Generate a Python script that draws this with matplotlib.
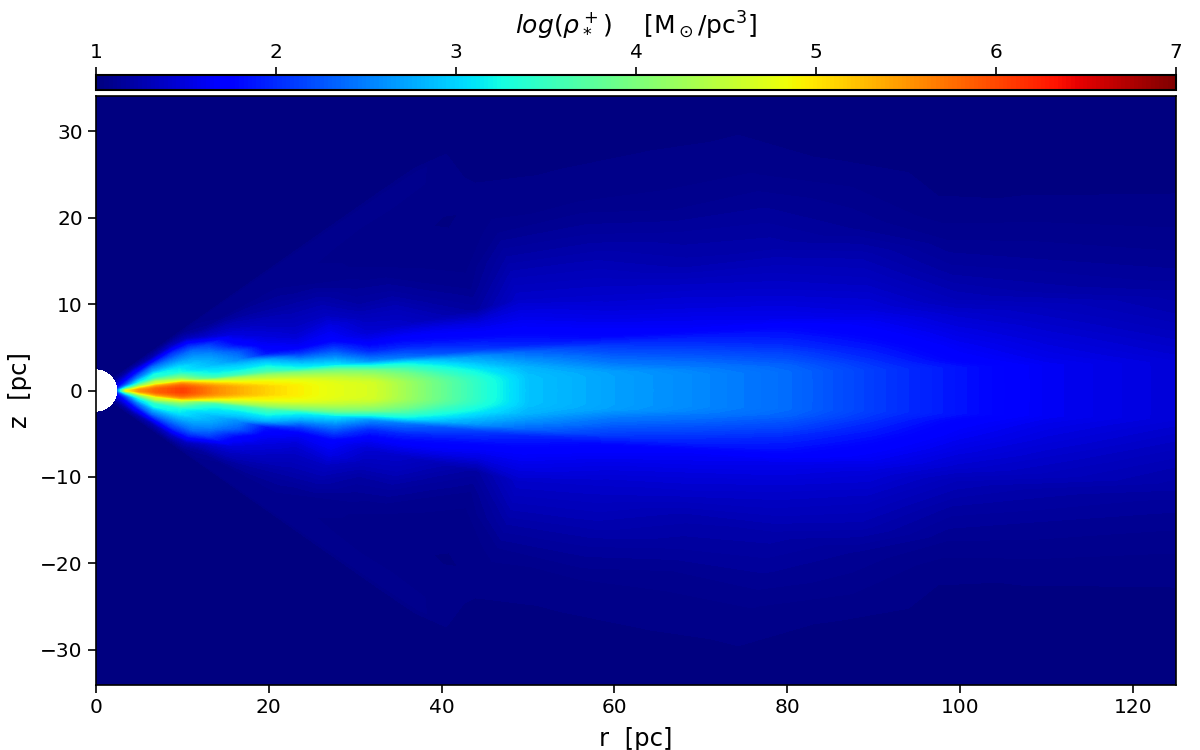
import numpy as np
import matplotlib
matplotlib.use("Agg")
import matplotlib.pyplot as plt
from matplotlib.cm import ScalarMappable
from matplotlib.colors import Normalize

# Radial nodes [pc] and elevation above the midplane [deg] of the polar grid
radii = [2.55, 3.5, 5, 7, 10, 12, 14, 17, 20, 24, 28, 32, 36, 40, 45, 50,
         60, 70, 80, 90, 100, 110, 125, 170]
elevations = [0, 0.5, 1, 1.5, 2, 3, 4, 5, 6, 8, 10, 12, 15, 18, 22, 26, 30, 34, 35.5, 90]

# log10 stellar density: one row per radius, one column per elevation
log_rho = [
    [2.50, 2.50, 2.40, 2.40, 2.30, 2.20, 2.10, 2.00, 1.90, 1.80, 1.70, 1.60, 1.50, 1.40, 1.30, 1.20, 1.10, 1.09, 1, 1],
    [4.80, 4.70, 4.50, 4.30, 4.10, 3.80, 3.50, 3.20, 3.00, 2.60, 2.30, 2.10, 1.90, 1.70, 1.50, 1.30, 1.15, 1.09, 1, 1],
    [5.50, 5.50, 5.45, 5.35, 5.25, 5.00, 4.70, 4.40, 4.10, 3.60, 3.20, 3.00, 2.60, 2.30, 1.90, 1.60, 1.25, 1.09, 1, 1],
    [5.85, 5.85, 5.85, 5.80, 5.75, 5.60, 5.40, 5.10, 4.70, 4.50, 3.90, 3.40, 3.25, 2.80, 2.40, 1.80, 1.25, 1.09, 1, 1],
    [6.05, 6.05, 6.05, 6.00, 5.95, 5.85, 5.65, 5.35, 4.80, 4.10, 3.70, 3.25, 3.10, 2.80, 2.40, 2.00, 1.40, 1.09, 1, 1],
    [5.80, 5.80, 5.80, 5.75, 5.70, 5.50, 5.20, 4.80, 4.00, 3.50, 3.20, 3.00, 2.90, 2.70, 2.40, 1.90, 1.30, 1.09, 1, 1],
    [5.55, 5.55, 5.55, 5.50, 5.45, 5.20, 4.85, 4.30, 3.60, 3.20, 3.05, 2.85, 2.70, 2.50, 2.10, 1.40, 1.15, 1.09, 1, 1],
    [5.30, 5.30, 5.30, 5.25, 5.15, 4.90, 4.60, 4.25, 3.60, 3.15, 2.90, 2.55, 2.30, 1.80, 1.50, 1.30, 1.09, 1.09, 1, 1],
    [5.10, 5.10, 5.10, 5.05, 4.95, 4.85, 4.50, 4.20, 3.70, 3.20, 2.80, 1.90, 1.65, 1.50, 1.35, 1.20, 1.09, 1.09, 1, 1],
    [4.90, 4.90, 4.90, 4.88, 4.85, 4.70, 4.35, 4.00, 3.25, 2.75, 2.10, 1.65, 1.45, 1.35, 1.25, 1.15, 1.09, 1.09, 1, 1],
    [4.75, 4.75, 4.75, 4.73, 4.70, 4.50, 4.20, 3.80, 3.10, 2.55, 2.10, 1.70, 1.55, 1.35, 1.22, 1.10, 1.07, 1.09, 1, 1],
    [4.65, 4.65, 4.65, 4.63, 4.55, 4.30, 4.00, 3.30, 2.60, 2.00, 1.65, 1.45, 1.33, 1.20, 1.12, 1.07, 1.06, 1.09, 1, 1],
    [4.25, 4.25, 4.25, 4.23, 4.15, 3.95, 3.60, 3.15, 2.45, 1.95, 1.65, 1.40, 1.30, 1.18, 1.08, 1.04, 1.05, 1.09, 1, 1],
    [3.85, 3.85, 3.85, 3.83, 3.75, 3.50, 3.20, 2.85, 2.25, 1.85, 1.60, 1.30, 1.18, 1.10, 1.05, 1.04, 1.05, 1.09, 1, 1],
    [3.35, 3.35, 3.35, 3.33, 3.28, 3.10, 2.85, 2.60, 2.10, 1.75, 1.50, 1.18, 1.10, 1.06, 1.04, 1.03, 1.05, 1.08, 1, 1],
    [2.90, 2.90, 2.90, 2.90, 2.88, 2.80, 2.60, 2.35, 1.95, 1.70, 1.55, 1.40, 1.30, 1.20, 1.08, 1.04, 1.03, 1.02, 1, 1],
    [2.70, 2.70, 2.70, 2.70, 2.68, 2.45, 2.25, 2.05, 1.75, 1.55, 1.42, 1.35, 1.25, 1.15, 1.05, 1.03, 1.02, 1.01, 1, 1],
    [2.55, 2.55, 2.55, 2.55, 2.50, 2.30, 2.10, 1.90, 1.65, 1.48, 1.37, 1.25, 1.17, 1.08, 1.04, 1.02, 1, 1, 1, 1],
    [2.38, 2.38, 2.38, 2.38, 2.33, 2.15, 1.95, 1.80, 1.58, 1.42, 1.32, 1.22, 1.14, 1.07, 1.03, 1, 1, 1, 1, 1],
    [2.10, 2.10, 2.10, 2.10, 2.04, 1.88, 1.74, 1.62, 1.48, 1.35, 1.25, 1.13, 1.07, 1.02, 1, 1, 1, 1, 1, 1],
    [1.85, 1.85, 1.85, 1.85, 1.72, 1.62, 1.52, 1.42, 1.30, 1.18, 1.10, 1.04, 1.02, 1, 1, 1, 1, 1, 1, 1],
    [1.62, 1.62, 1.62, 1.62, 1.56, 1.48, 1.40, 1.33, 1.22, 1.13, 1.07, 1.03, 1.01, 1, 1, 1, 1, 1, 1, 1],
    [1.47, 1.47, 1.47, 1.47, 1.42, 1.34, 1.27, 1.22, 1.15, 1.08, 1.04, 1.01, 1, 1, 1, 1, 1, 1, 1, 1],
    [1.36, 1.36, 1.36, 1.32, 1.24, 1.16, 1.12, 1.08, 1.03, 1.01, 1, 1, 1, 1, 1, 1, 1, 1, 1, 1],
]
cbar_ticks = [1, 2, 3, 4, 5, 6, 7]
r_ticks = [0, 20, 40, 60, 80, 100, 120]
z_ticks = [-30, -20, -10, 0, 10, 20, 30]

# Extra polar wedge toward the axis, so the inner hole stays round
polar_padding = [45, 55, 65, 75]
upper_el = np.array(elevations[:-1] + polar_padding + elevations[-1:], dtype=float)
upper_rho = np.array(log_rho)
upper_rho = np.hstack([upper_rho[:, :-1],
                       np.ones((upper_rho.shape[0], len(polar_padding))),
                       upper_rho[:, -1:]])

# Mirror the half disc about the midplane
el = np.concatenate([-upper_el[:0:-1], upper_el])
rho = np.hstack([upper_rho[:, :0:-1], upper_rho])
R, E = np.meshgrid(radii, np.radians(el), indexing="ij")
X = R * np.cos(E)
Z = R * np.sin(E)

fig = plt.figure(figsize=(12, 7.5), dpi=100)
ax = fig.add_axes([96 / 1200, 1 - 685 / 750, 1080 / 1200, 589 / 750])
cax = fig.add_axes([96 / 1200, 1 - 90 / 750, 1080 / 1200, 15 / 750])

levels = np.linspace(1, 7, 181)
norm = Normalize(1, 7)
cmap = plt.get_cmap("jet").copy()
cmap.set_under(cmap(0.0))
cf = ax.contourf(X, Z, rho, levels=levels, cmap=cmap, norm=norm, extend="min")
cf.set_edgecolor("face")
cf.set_linewidth(0.3)

ax.set_xlim(0, 125)
ax.set_ylim(-34.1, 34.1)
ax.set_xticks(r_ticks)
ax.set_yticks(z_ticks)
ax.tick_params(labelsize=14.5, length=6, width=1.2)
ax.set_xlabel("r  [pc]", fontsize=17.5, labelpad=7)
ax.set_ylabel("z  [pc]", fontsize=17.5, labelpad=6)
for spine in ax.spines.values():
    spine.set_linewidth(1.2)

cb = fig.colorbar(ScalarMappable(norm=norm, cmap="jet"), cax=cax,
                  orientation="horizontal", ticks=cbar_ticks)
cb.ax.xaxis.set_ticks_position("top")
cb.ax.xaxis.set_label_position("top")
cb.ax.tick_params(labelsize=14.5, length=6, width=1.2)
cb.outline.set_linewidth(1.5)
cb.set_label(r"$log(\rho_*^+)$    [M$_\odot$/pc$^3$]", fontsize=18, labelpad=7)

fig.savefig("out.png", dpi=100)
